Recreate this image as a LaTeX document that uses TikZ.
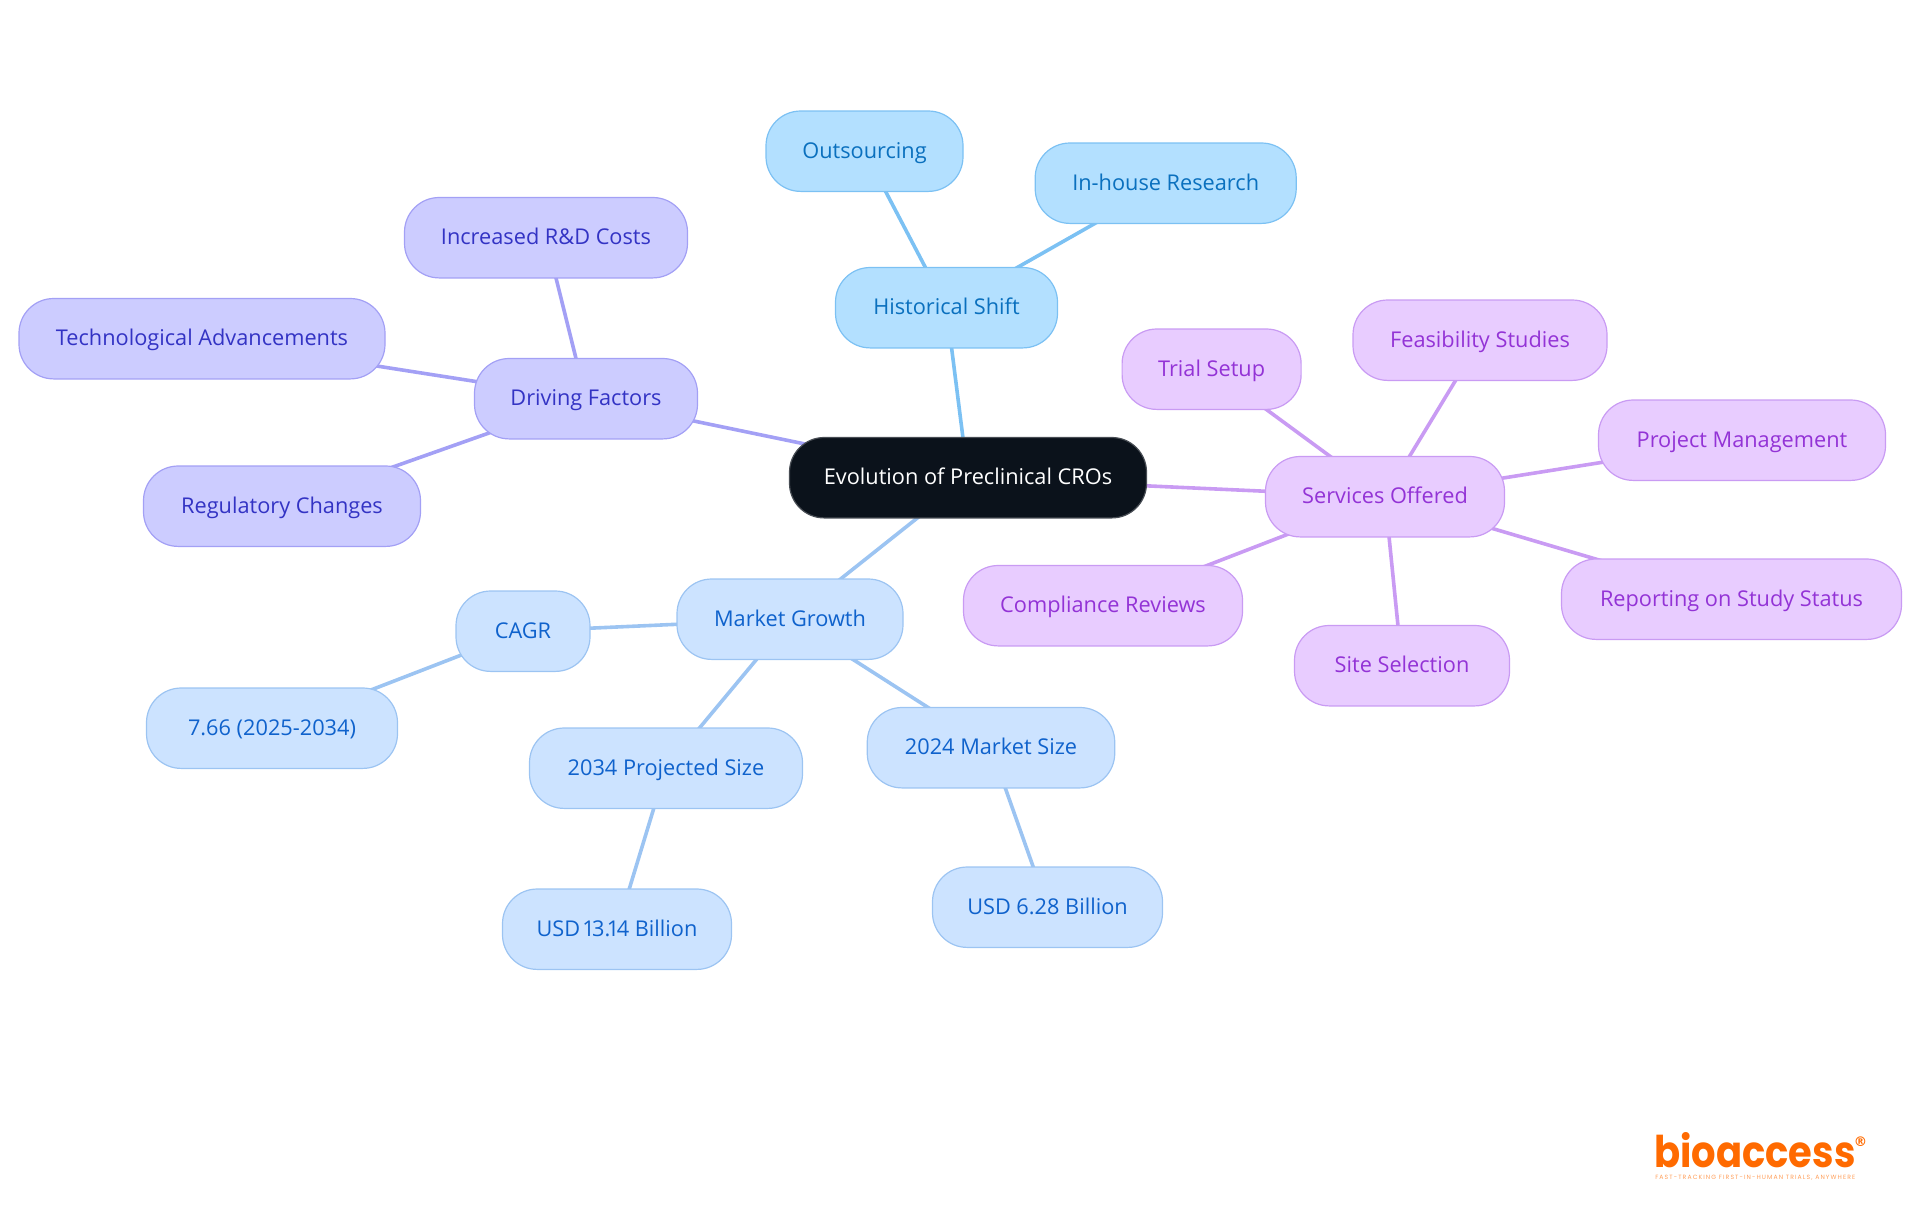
\documentclass[tikz,border=0pt]{standalone}
\usepackage{fontspec}
\usepackage{graphicx}
\setmainfont{Open Sans}
\newfontfamily\logofont{Poppins}
\newfontfamily\tagfont[LetterSpace=18]{Poppins}
\newfontfamily\markfont{DejaVu Sans}
\usetikzlibrary{backgrounds}
\definecolor{bluefill}{HTML}{B3E0FF}\definecolor{blueline}{HTML}{7CC1F3}\definecolor{bluetext}{HTML}{0A70BE}
\definecolor{indfill}{HTML}{CCCCFF}\definecolor{indline}{HTML}{A3A0F5}\definecolor{indtext}{HTML}{3333C4}
\definecolor{purfill}{HTML}{E8CCFF}\definecolor{purline}{HTML}{C99BF3}\definecolor{purtext}{HTML}{9333D6}
\definecolor{skyfill}{HTML}{CCE3FF}\definecolor{skyline}{HTML}{9CC4F2}\definecolor{skytext}{HTML}{0F62CC}
\definecolor{rootfill}{HTML}{0B121B}\definecolor{logoor}{HTML}{FF6A00}
\tikzset{
 x=0.75pt,y=-0.75pt,
 mind/.style={rectangle,rounded corners=26pt,minimum height=60.3pt,inner sep=0pt,line width=0.9pt,
   font=\fontsize{16.3}{19}\selectfont,text height=12.6pt,text depth=2.4pt,align=center},
 nblue/.style={mind,fill=bluefill,draw=blueline,text=bluetext},
 nind/.style={mind,fill=indfill,draw=indline,text=indtext},
 npur/.style={mind,fill=purfill,draw=purline,text=purtext},
 nsky/.style={mind,fill=skyfill,draw=skyline,text=skytext},
 nroot/.style={mind,fill=rootfill,draw=rootfill!75!white,text=white},
 link/.style={line width=2.7pt},
}
\begin{document}
\begin{tikzpicture}
\useasboundingbox (0,0) rectangle (1920,1215);
\begin{scope}[shift={(0,0.2)}]
\node[nroot,minimum width=357*.75pt] (root) at (968,477.5) {Evolution of Preclinical CROs};
\node[nblue,minimum width=222*.75pt] (hist) at (946.5,307.5) {Historical Shift};
\node[nblue,minimum width=197*.75pt] (out) at (864.5,151) {Outsourcing};
\node[nblue,minimum width=261*.75pt] (inh) at (1165.7,183) {In-house Research};
\node[nind,minimum width=223*.75pt] (drv) at (586,398.5) {Driving Factors};
\node[nind,minimum width=283*.75pt] (rd) at (546,237.5) {Increased R\&D Costs};
\node[nind,minimum width=366*.75pt] (tech) at (202,338.5) {Technological Advancements};
\node[nind,minimum width=277*.75pt] (reg) at (282,506) {Regulatory Changes};
\node[npur,minimum width=239*.75pt] (srv) at (1385,496.5) {Services Offered};
\node[npur,minimum width=179*.75pt] (trial) at (1211.6,369) {Trial Setup};
\node[npur,minimum width=254*.75pt] (feas) at (1480,340) {Feasibility Studies};
\node[npur,minimum width=287*.75pt] (proj) at (1742,440) {Project Management};
\node[npur,minimum width=340*.75pt] (rep) at (1731.5,599) {Reporting on Study Status};
\node[npur,minimum width=215*.75pt] (site) at (1402,665.5) {Site Selection};
\node[npur,minimum width=279*.75pt] (comp) at (1103,605.5) {Compliance Reviews};
\node[nsky,minimum width=226*.75pt] (mkt) at (790,619) {Market Growth};
\node[nsky,minimum width=134*.75pt] (cagr) at (523,631) {CAGR};
\node[nsky,minimum width=251*.75pt] (sev) at (272,728) {7.66 (2025-2034)};
\node[nsky,minimum width=273*.75pt] (p34) at (666,768) {2034 Projected Size};
\node[nsky,minimum width=247.5*.75pt] (m24) at (991,747.5) {2024 Market Size};
\node[nsky,minimum width=229*.75pt] (u13) at (617,929) {USD \kern-.16em1\kern-.12em3.\kern-.16em1\kern-.12em4 Billion};
\node[nsky,minimum width=230*.75pt] (u6) at (1047.5,907) {USD 6.28 Billion};
\end{scope}
\begin{scope}[on background layer]
\draw[link,blueline] (root.center)--(hist.center) (hist.center)--(out.center) (hist.center)--(inh.center);
\draw[link,indline] (root.center)--(drv.center) (drv.center)--(rd.center) (drv.center)--(tech.center) (drv.center)--(reg.center);
\draw[link,purline] (root.center)--(srv.center) (srv.center)--(trial.center) (srv.center)--(feas.center) (srv.center)--(proj.center) (srv.center)--(rep.center) (srv.center)--(site.center) (srv.center)--(comp.center);
\draw[link,skyline] (root.center)--(mkt.center) (mkt.center)--(cagr.center) (cagr.center)--(sev.center) (mkt.center)--(p34.center) (p34.center)--(u13.center) (mkt.center)--(m24.center) (m24.center)--(u6.center);
\end{scope}
\node[anchor=base west,inner sep=0pt,text=logoor] (logo) at (1654,1167) {\resizebox{151pt}{26.25pt}{\logofont\bfseries bioaccess}};
\node[anchor=center,inner sep=0pt,text=logoor] (regmark) at (1860.5,1141.5) {\fontsize{10}{10}\selectfont\markfont\bfseries ®};
\node[anchor=base west,inner sep=0pt,text=logoor!65!white] (tag) at (1655,1179.5) {\resizebox{150pt}{!}{\fontsize{4.6}{5}\selectfont\tagfont FAST-TRACKING FIRST-IN-HUMAN TRIALS, ANYWHERE}};
\end{tikzpicture}
\end{document}
